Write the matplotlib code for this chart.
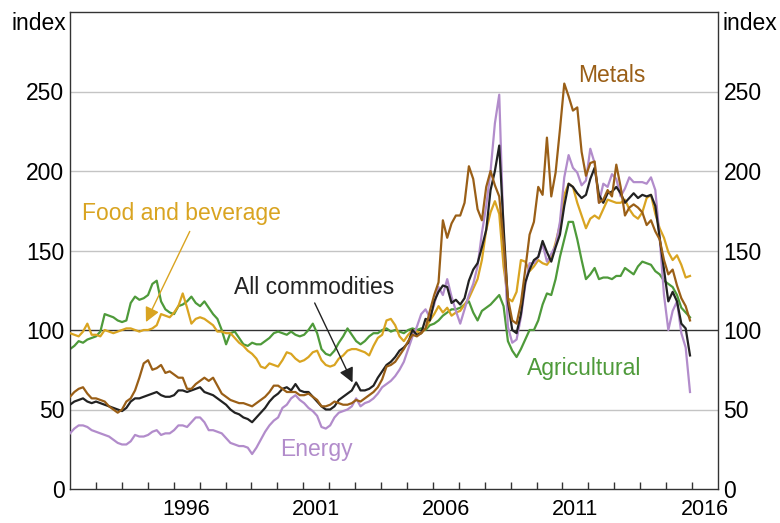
"""Commodity price indices by component, 1992-2015."""

import matplotlib

matplotlib.use("Agg")

import matplotlib.pyplot as plt
import numpy as np
from matplotlib.ticker import FixedLocator, FixedFormatter, NullFormatter

plt.rcParams["font.family"] = ["Liberation Sans", "DejaVu Sans"]

# bi-monthly readings, Jan 1992 .. Dec 2015 (6 per year)
start_year = 1992
end_year = 2015.92

agricultural = [
    88, 90, 93, 92, 94, 95,  # 1992
    96, 99, 110, 109, 108, 106,  # 1993
    105, 106, 117, 121, 119, 120,  # 1994
    122, 129, 131, 118, 113, 111,  # 1995
    110, 115, 116, 118, 121, 117,  # 1996
    115, 118, 114, 110, 107, 100,  # 1997
    91, 98, 99, 95, 91, 90,  # 1998
    92, 91, 91, 93, 95, 98,  # 1999
    99, 98, 97, 99, 97, 96,  # 2000
    97, 100, 104, 98, 88, 85,  # 2001
    84, 87, 92, 96, 101, 97,  # 2002
    93, 91, 93, 96, 98, 98,  # 2003
    100, 101, 99, 100, 99, 98,  # 2004
    100, 101, 100, 101, 100, 103,  # 2005
    104, 106, 109, 111, 113, 113,  # 2006
    114, 116, 118, 111, 106, 112,  # 2007
    114, 116, 119, 122, 115, 93,  # 2008
    87, 83, 88, 94, 100, 100,  # 2009
    106, 116, 123, 122, 132, 146,  # 2010
    157, 168, 168, 157, 144, 132,  # 2011
    135, 139, 132, 133, 133, 132,  # 2012
    134, 134, 139, 137, 135, 140,  # 2013
    143, 142, 141, 137, 135, 131,  # 2014
    129, 127, 122, 114, 111, 108,  # 2015
]

food = [
    98, 97, 96, 99, 104, 97,  # 1992
    97, 96, 100, 99, 98, 99,  # 1993
    100, 101, 101, 100, 99, 100,  # 1994
    100, 101, 103, 110, 109, 108,  # 1995
    111, 115, 123, 114, 104, 107,  # 1996
    108, 107, 105, 103, 99, 99,  # 1997
    98, 98, 95, 92, 90, 87,  # 1998
    85, 82, 77, 76, 79, 78,  # 1999
    77, 81, 86, 85, 82, 80,  # 2000
    81, 83, 86, 87, 81, 78,  # 2001
    77, 78, 82, 84, 87, 88,  # 2002
    88, 87, 86, 84, 90, 95,  # 2003
    97, 106, 107, 103, 96, 93,  # 2004
    97, 100, 99, 98, 101, 106,  # 2005
    110, 115, 111, 114, 109, 111,  # 2006
    112, 116, 120, 126, 132, 144,  # 2007
    163, 174, 181, 173, 140, 120,  # 2008
    118, 124, 144, 143, 137, 140,  # 2009
    144, 142, 141, 145, 155, 166,  # 2010
    185, 192, 190, 180, 172, 164,  # 2011
    170, 172, 170, 176, 182, 181,  # 2012
    180, 180, 182, 176, 172, 170,  # 2013
    174, 183, 185, 173, 164, 158,  # 2014
    149, 144, 147, 141, 133, 134,  # 2015
]

metals = [
    58, 61, 63, 64, 60, 57,  # 1992
    57, 56, 55, 52, 50, 48,  # 1993
    50, 55, 57, 62, 70, 79,  # 1994
    81, 75, 76, 78, 73, 74,  # 1995
    72, 70, 70, 63, 63, 66,  # 1996
    68, 70, 68, 70, 65, 60,  # 1997
    58, 56, 55, 54, 54, 53,  # 1998
    52, 54, 56, 58, 61, 65,  # 1999
    65, 63, 61, 61, 61, 59,  # 2000
    59, 60, 58, 56, 52, 52,  # 2001
    53, 55, 54, 53, 53, 54,  # 2002
    56, 55, 57, 59, 61, 64,  # 2003
    69, 77, 78, 80, 84, 88,  # 2004
    93, 97, 96, 98, 101, 112,  # 2005
    122, 130, 169, 158, 167, 172,  # 2006
    172, 180, 203, 195, 176, 169,  # 2007
    190, 200, 191, 184, 155, 120,  # 2008
    106, 104, 117, 138, 160, 168,  # 2009
    190, 185, 221, 184, 199, 226,  # 2010
    255, 247, 238, 240, 212, 197,  # 2011
    205, 206, 180, 182, 188, 184,  # 2012
    204, 190, 172, 177, 179, 177,  # 2013
    174, 166, 169, 162, 157, 144,  # 2014
    135, 138, 128, 120, 115, 106,  # 2015
]

all_commodities = [
    53, 55, 56, 57, 55, 54,  # 1992
    55, 54, 53, 52, 51, 50,  # 1993
    49, 51, 55, 57, 57, 58,  # 1994
    59, 60, 61, 59, 58, 58,  # 1995
    59, 62, 62, 61, 62, 63,  # 1996
    64, 61, 60, 59, 57, 55,  # 1997
    53, 50, 48, 47, 45, 44,  # 1998
    42, 45, 48, 51, 55, 58,  # 1999
    60, 63, 64, 62, 66, 62,  # 2000
    61, 61, 58, 55, 52, 50,  # 2001
    50, 52, 56, 58, 60, 62,  # 2002
    67, 62, 62, 63, 65, 70,  # 2003
    74, 78, 80, 83, 87, 89,  # 2004
    92, 100, 97, 98, 107, 106,  # 2005
    118, 124, 128, 127, 117, 119,  # 2006
    116, 120, 131, 138, 142, 152,  # 2007
    163, 188, 200, 216, 165, 118,  # 2008
    100, 98, 110, 130, 138, 144,  # 2009
    146, 156, 149, 143, 152, 160,  # 2010
    178, 192, 190, 186, 183, 185,  # 2011
    195, 202, 185, 180, 186, 187,  # 2012
    190, 186, 180, 183, 186, 183,  # 2013
    185, 184, 185, 178, 158, 138,  # 2014
    118, 124, 118, 104, 101, 84,  # 2015
]

energy = [
    35, 38, 40, 40, 39, 37,  # 1992
    36, 35, 34, 33, 31, 29,  # 1993
    28, 28, 30, 34, 33, 33,  # 1994
    34, 36, 37, 34, 35, 35,  # 1995
    37, 40, 40, 39, 42, 45,  # 1996
    45, 42, 37, 37, 36, 35,  # 1997
    32, 29, 28, 27, 27, 26,  # 1998
    22, 26, 31, 36, 40, 43,  # 1999
    45, 51, 53, 57, 59, 56,  # 2000
    54, 51, 49, 46, 39, 38,  # 2001
    40, 45, 48, 49, 50, 52,  # 2002
    57, 52, 54, 55, 57, 60,  # 2003
    64, 66, 68, 71, 75, 80,  # 2004
    88, 96, 102, 110, 113, 108,  # 2005
    116, 127, 122, 132, 121, 112,  # 2006
    104, 113, 122, 129, 140, 161,  # 2007
    178, 200, 230, 248, 160, 102,  # 2008
    92, 94, 108, 128, 142, 142,  # 2009
    146, 154, 143, 148, 153, 168,  # 2010
    196, 210, 202, 199, 191, 194,  # 2011
    214, 205, 180, 192, 190, 198,  # 2012
    195, 184, 189, 196, 193, 193,  # 2013
    193, 192, 196, 188, 158, 122,  # 2014
    100, 112, 118, 98, 89, 61,  # 2015
]

year_labels = ["1996", "2001", "2006", "2011", "2016"]
y_ticks = [0, 50, 100, 150, 200, 250]

COLORS = {
    "agricultural": "#4e9a3a",
    "food": "#d9a421",
    "energy": "#b28ccb",
    "all": "#222222",
    "metals": "#9a5f17",
}


def main() -> None:
    t = np.linspace(start_year, end_year, len(all_commodities))

    fig = plt.figure(figsize=(7.8, 5.23), dpi=100)
    ax = fig.add_axes([70 / 780, 1 - 489 / 523, 648 / 780, 477 / 523])

    for y in [50, 150, 200, 250]:
        ax.axhline(y, color="#c4c4c4", lw=1.0, zorder=1)
    ax.axhline(100, color="#333333", lw=1.0, zorder=1)

    lw = 1.6
    ax.plot(t, agricultural, color=COLORS["agricultural"], lw=lw, zorder=2)
    ax.plot(t, food, color=COLORS["food"], lw=lw, zorder=3)
    ax.plot(t, energy, color=COLORS["energy"], lw=lw, zorder=4)
    ax.plot(t, all_commodities, color=COLORS["all"], lw=lw, zorder=5)
    ax.plot(t, metals, color=COLORS["metals"], lw=lw, zorder=6)

    ax.set_xlim(1992, 2017)
    ax.set_ylim(0, 300)

    # year ticks inside, labels centred in the year
    ax.xaxis.set_major_locator(FixedLocator(np.arange(1993, 2017)))
    ax.xaxis.set_major_formatter(NullFormatter())
    ax.xaxis.set_minor_locator(FixedLocator([int(s) + 0.5 for s in year_labels]))
    ax.xaxis.set_minor_formatter(FixedFormatter(year_labels))
    ax.tick_params(axis="x", which="major", direction="in", length=5, width=1,
                   color="#333333")
    ax.tick_params(axis="x", which="minor", length=0, pad=7, labelsize=15.5)

    ax.set_yticks(y_ticks)
    ax.tick_params(axis="y", length=0, pad=4, labelsize=16.5,
                   labelleft=True, labelright=True)

    for spine in ax.spines.values():
        spine.set_color("#333333")
        spine.set_linewidth(1.0)

    fig.text(66 / 780, 1 - 24 / 523, "index", ha="right", va="center", fontsize=16.5)
    fig.text(722 / 780, 1 - 24 / 523, "index", ha="left", va="center", fontsize=16.5)

    fs = 16.5
    ax.text(2012.9, 260, "Metals", color=COLORS["metals"], fontsize=fs,
            ha="center", va="center")
    ax.text(1992.46, 173, "Food and beverage", color=COLORS["food"], fontsize=fs,
            ha="left", va="center")
    ax.annotate("", xy=(1994.93, 105), xytext=(1996.62, 162),
                arrowprops=dict(arrowstyle="-|>", color=COLORS["food"], lw=1.0,
                                mutation_scale=22, shrinkA=0, shrinkB=0))
    ax.text(2001.4, 127, "All commodities", color=COLORS["all"], fontsize=fs,
            ha="center", va="center")
    ax.annotate("", xy=(2002.9, 67), xytext=(2001.44, 117),
                arrowprops=dict(arrowstyle="-|>", color=COLORS["all"], lw=1.0,
                                mutation_scale=22, shrinkA=0, shrinkB=0))
    ax.text(2001.5, 25, "Energy", color=COLORS["energy"], fontsize=fs,
            ha="center", va="center")
    ax.text(2011.84, 76, "Agricultural", color=COLORS["agricultural"], fontsize=fs,
            ha="center", va="center")

    fig.savefig("out.png", dpi=100)
    plt.close(fig)


if __name__ == "__main__":
    main()
